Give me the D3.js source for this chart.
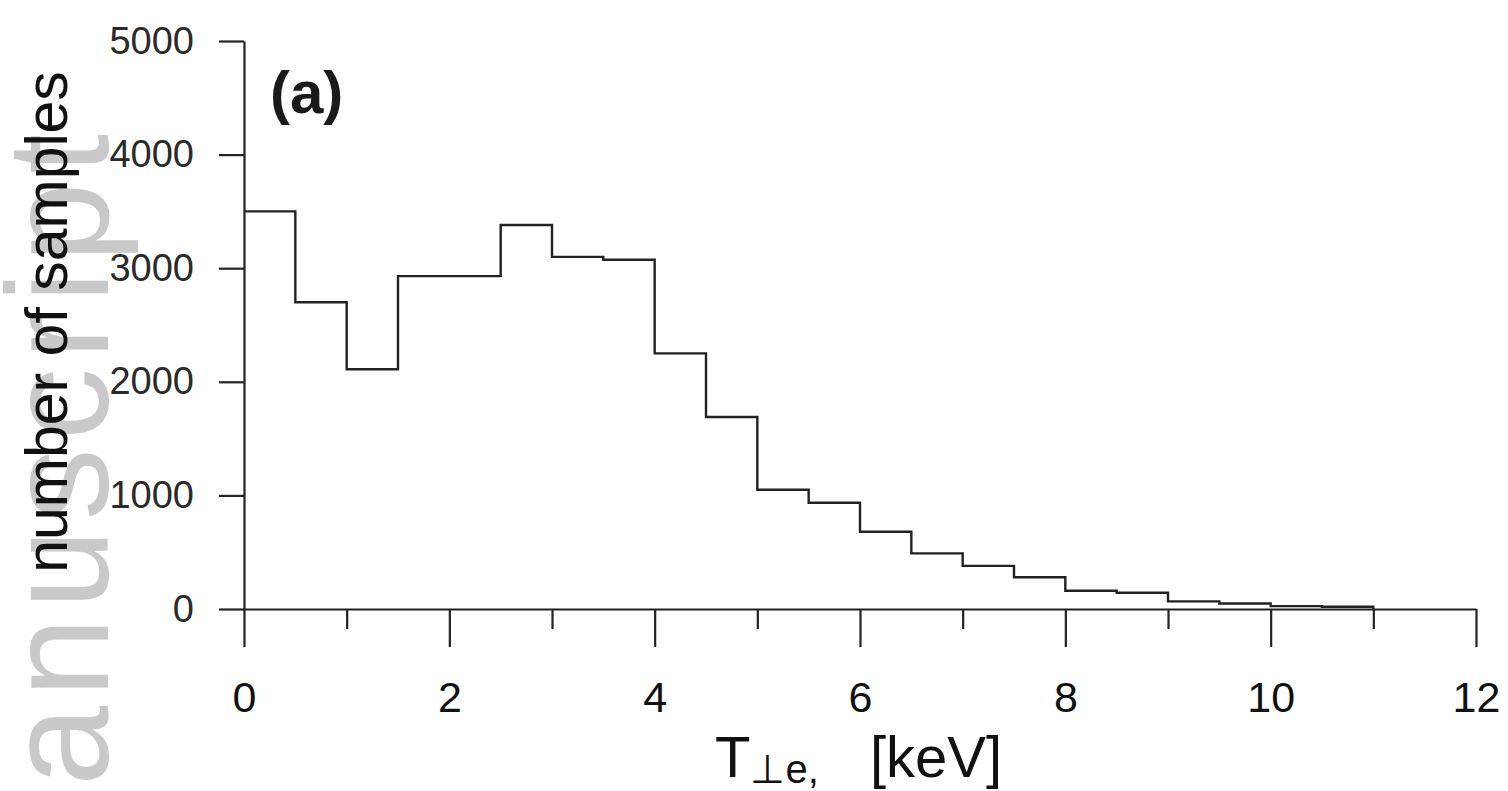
<!DOCTYPE html>
<html>
<head>
<meta charset="utf-8">
<script src="https://cdn.jsdelivr.net/npm/d3@7"></script>
<style>
  body { margin: 0; background: #fff; }
  svg text { font-family: "Liberation Sans", Arial, sans-serif; }
</style>
</head>
<body>
<div id="chart"></div>
<script>
// bin left edges (keV) and counts
const binStarts = [0, 0.5, 1, 1.5, 2, 2.5, 3, 3.5, 4, 4.5, 5, 5.5, 6, 6.5, 7, 7.5, 8, 8.5, 9, 9.5, 10, 10.5];
const counts = [3500, 2700, 2110, 2930, 2930, 3380, 3100, 3075, 2250, 1690, 1050, 935, 680, 490, 380, 280, 161, 143, 67, 49, 25, 20];
const binWidth = 0.5;
const xMajorTicks = [0, 2, 4, 6, 8, 10, 12];
const xMinorTicks = [1, 3, 5, 7, 9, 11];
const yTicks = [0, 1000, 2000, 3000, 4000, 5000];

const W = 1508, H = 791;
const margin = { top: 41, left: 244, right: 32, bottom: 182 };
const width = W - margin.left - margin.right;
const height = H - margin.top - margin.bottom;

const svg = d3.select("#chart").append("svg")
    .attr("width", W)
    .attr("height", H);

// watermark
svg.append("text")
    .attr("transform", "translate(108,786) rotate(-90)")
    .attr("font-size", 144)
    .attr("fill", "#c9c9c9")
    .attr("textLength", 652)
    .attr("lengthAdjust", "spacing")
    .text("anuscript");

const g = svg.append("g")
    .attr("transform", `translate(${margin.left},${margin.top})`);

const x = d3.scaleLinear().domain([0, 12]).range([0, width]);
const y = d3.scaleLinear().domain([0, 5000]).range([height, 0]);

// axes
const yAxis = g.append("g")
    .call(d3.axisLeft(y).tickValues(yTicks).tickFormat(d3.format("d"))
        .tickSize(25).tickSizeOuter(0).tickPadding(25));
yAxis.selectAll("text").attr("font-size", 38).attr("fill", "#2a2a2a").attr("font-family", "Liberation Sans, Arial, sans-serif");

const xAxis = g.append("g")
    .attr("transform", `translate(0,${height})`)
    .call(d3.axisBottom(x).tickValues(xMajorTicks).tickSize(38).tickSizeOuter(0).tickPadding(34));
xAxis.selectAll("text").attr("font-size", 43).attr("fill", "#111").attr("font-family", "Liberation Sans, Arial, sans-serif");

const xMinor = g.append("g")
    .attr("transform", `translate(0,${height})`)
    .call(d3.axisBottom(x).tickValues(xMinorTicks).tickSize(20).tickSizeOuter(0).tickFormat(""));
xMinor.select(".domain").remove();

g.selectAll(".domain, .tick line").attr("stroke", "#222").attr("stroke-width", 2.2);

// histogram outline
const pts = binStarts.map((b, i) => ({ x: b, v: counts[i] }));
pts.push({ x: binStarts[binStarts.length - 1] + binWidth, v: 0 });

const line = d3.line()
    .x(d => x(d.x))
    .y(d => y(d.v))
    .curve(d3.curveStepAfter);

g.append("path")
    .datum(pts)
    .attr("fill", "none")
    .attr("stroke", "#222")
    .attr("stroke-width", 2.4)
    .attr("d", line);

// panel label
svg.append("text")
    .attr("x", 270)
    .attr("y", 113)
    .attr("font-size", 60)
    .attr("font-weight", "bold")
    .attr("fill", "#1a1a1a")
    .text("(a)");

// y label
svg.append("text")
    .attr("transform", "translate(67,322) rotate(-90)")
    .attr("text-anchor", "middle")
    .attr("font-size", 59)
    .attr("fill", "#111")
    .text("number of samples");

// x label
const xl = svg.append("text")
    .attr("x", 715)
    .attr("y", 777)
    .attr("font-size", 58)
    .attr("fill", "#111");
xl.append("tspan").text("T");
xl.append("tspan").attr("font-size", 40).attr("dy", 6).text("\u22A5e,");
xl.append("tspan").attr("x", 870).attr("dy", -6).text("[keV]");
</script>
</body>
</html>
